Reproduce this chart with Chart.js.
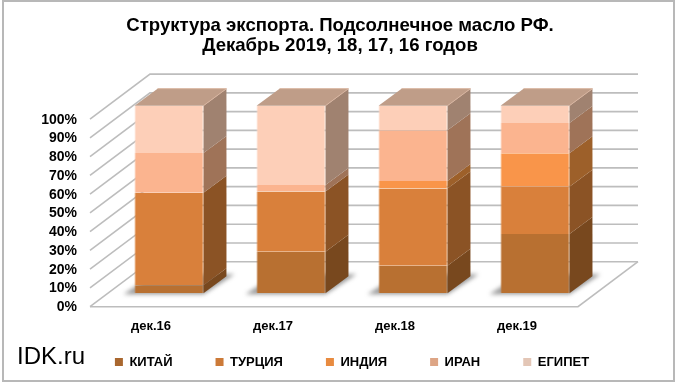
<!DOCTYPE html>
<html lang="ru">
<head>
<meta charset="utf-8">
<style>html,body{margin:0;padding:0;background:#fff}canvas{display:block}</style>
<script src="https://cdn.jsdelivr.net/npm/chart.js@4"></script>
</head>
<body>
<canvas id="c" width="680" height="385"></canvas>
<script>
const categories = ['дек.16', 'дек.17', 'дек.18', 'дек.19'];
const china  = [4.3, 22.2, 14.7, 31.6];
const turkey = [49.3, 32.0, 41.1, 25.2];
const india  = [0, 0, 4.1, 17.8];
const iran   = [21.2, 3.5, 27.0, 16.2];
const egypt  = [25.2, 42.3, 13.1, 9.2];
const titleLines = ['Структура экспорта. Подсолнечное масло РФ.', 'Декабрь 2019, 18, 17, 16 годов'];
const seriesNames = ['КИТАЙ', 'ТУРЦИЯ', 'ИНДИЯ', 'ИРАН', 'ЕГИПЕТ'];
const frontColors = ['#B87031', '#D9803B', '#F9954A', '#FBB48F', '#FDCFB8'];
const rimColors   = ['#C07A3C', '#E08A47', '#FBA05A', '#FBBE9E', '#FDD9C6'];
const sideColors  = ['#78481E', '#8B5325', '#9D602A', '#9F7358', '#A08270'];
const markColors  = ['#A9672F', '#CC7A38', '#E88B40', '#DDA585', '#E3C6B6'];
const topColor = '#BF9D88';
const gridColor = '#BDBDBD';
const font = 'Liberation Sans, Arial, sans-serif';

const barDepth = {dx: 23, dy: -17};
const wallBack = {dx: 42, dy: -31.6};
const wallFront = {dx: -18, dy: 13.4};

function poly(ctx, pts, fill) {
  ctx.beginPath();
  pts.forEach((p, i) => i ? ctx.lineTo(p[0], p[1]) : ctx.moveTo(p[0], p[1]));
  ctx.closePath();
  if (fill) { ctx.fillStyle = fill; ctx.fill(); }
}

const scene = {
  id: 'scene',
  afterLayout(chart) {
    const t = chart.titleBlock;
    t.left = 0; t.right = 680;
    const l = chart.legend;
    l.left = 12; l.right = 692; l.top = 312.5; l.bottom = 385;
  },
  beforeDraw(chart) {
    const ctx = chart.ctx;
    ctx.save();
    ctx.fillStyle = '#fff';
    ctx.fillRect(0, 0, 680, 385);
    ctx.strokeStyle = '#B8B8B8';
    ctx.lineWidth = 2;
    ctx.strokeRect(3, 1, 671, 380);
    ctx.fillStyle = '#000';
    ctx.font = '24px ' + font;
    ctx.textBaseline = 'alphabetic';
    ctx.fillText('IDK.ru', 17, 364);
    ctx.restore();
  },
  beforeDatasetsDraw(chart) {
    const ctx = chart.ctx, y = chart.scales.y, a = chart.chartArea;
    ctx.save();
    ctx.strokeStyle = gridColor;
    ctx.lineWidth = 1.6;
    y.ticks.forEach(t => {
      const py = y.getPixelForValue(t.value);
      ctx.beginPath();
      ctx.moveTo(a.left + wallFront.dx, py + wallFront.dy);
      ctx.lineTo(a.left + wallBack.dx, py + wallBack.dy);
      ctx.lineTo(a.right + wallBack.dx, py + wallBack.dy);
      ctx.stroke();
    });
    const b = y.getPixelForValue(0);
    ctx.beginPath();
    ctx.moveTo(a.left + wallFront.dx, b + wallFront.dy);
    ctx.lineTo(a.right + wallFront.dx, b + wallFront.dy);
    ctx.lineTo(a.right + wallBack.dx, b + wallBack.dy);
    ctx.stroke();

    const metas = chart.data.datasets.map((_, i) => chart.getDatasetMeta(i));
    metas[0].data.forEach(el => {
      const l = el.x - el.width / 2, r = el.x + el.width / 2;
      ctx.save();
      ctx.filter = 'blur(2px)';
      poly(ctx, [[l - 11, el.base + 1], [r, el.base + 1], [r + 31, el.base - 19], [l + 20, el.base - 19]], 'rgba(85,85,85,0.6)');
      ctx.restore();
    });
    metas.forEach((m, i) => {
      m.data.forEach(el => {
        if (Math.abs(el.base - el.y) < 0.01) return;
        const r = el.x + el.width / 2;
        poly(ctx, [[r, el.base], [r + barDepth.dx, el.base + barDepth.dy],
                   [r + barDepth.dx, el.y + barDepth.dy], [r, el.y]], sideColors[i]);
      });
    });
    metas[metas.length - 1].data.forEach(el => {
      const l = el.x - el.width / 2, r = el.x + el.width / 2;
      poly(ctx, [[l, el.y], [r, el.y], [r + barDepth.dx, el.y + barDepth.dy], [l + barDepth.dx, el.y + barDepth.dy]], topColor);
      ctx.strokeStyle = '#D8B49F';
      ctx.lineWidth = 1;
      ctx.beginPath();
      ctx.moveTo(r, el.y);
      ctx.lineTo(r + barDepth.dx, el.y + barDepth.dy);
      ctx.lineTo(l + barDepth.dx, el.y + barDepth.dy);
      ctx.stroke();
    });
    ctx.restore();
  }
};

const seriesValues = [china, turkey, india, iran, egypt];
new Chart(document.getElementById('c'), {
  type: 'bar',
  plugins: [scene],
  data: {
    labels: categories,
    datasets: seriesValues.map((v, i) => ({
      label: seriesNames[i],
      data: v,
      backgroundColor: frontColors[i],
      borderColor: rimColors[i],
      borderWidth: {left: 1, right: 1},
      barPercentage: 1,
      categoryPercentage: 0.565
    }))
  },
  options: {
    responsive: false,
    animation: false,
    layout: {padding: {left: 0, right: 84, top: 0, bottom: 0}},
    plugins: {
      tooltip: {enabled: false},
      title: {
        display: true,
        text: titleLines,
        color: '#000',
        font: {family: font, size: 18.6, weight: 'bold', lineHeight: 1.08},
        padding: {top: 16, bottom: 49.5}
      },
      legend: {
        position: 'bottom',
        maxHeight: 30,
        labels: {
          color: '#000',
          font: {family: font, size: 13, weight: 'bold'},
          boxWidth: 8,
          boxHeight: 8,
          padding: 43,
          generateLabels: c => c.data.datasets.map((d, i) => ({
            text: d.label, fillStyle: markColors[i], strokeStyle: markColors[i],
            lineWidth: 0, datasetIndex: i, fontColor: '#000'
          }))
        }
      }
    },
    scales: {
      x: {
        stacked: true,
        grid: {display: false},
        border: {display: false},
        afterFit: s => { s.height = 61.7; },
        ticks: {
          color: '#000',
          maxRotation: 0,
          labelOffset: -18,
          padding: 17,
          font: {family: font, size: 13, weight: 'bold'}
        }
      },
      y: {
        stacked: true,
        min: 0,
        max: 100,
        grid: {display: false},
        border: {display: false},
        afterFit: s => { s.width = 108; },
        ticks: {
          stepSize: 10,
          autoSkip: false,
          color: '#000',
          labelOffset: 14,
          padding: 23,
          callback: v => v + '%',
          font: {family: font, size: 14, weight: 'bold'}
        }
      }
    }
  }
});
</script>
</body>
</html>
